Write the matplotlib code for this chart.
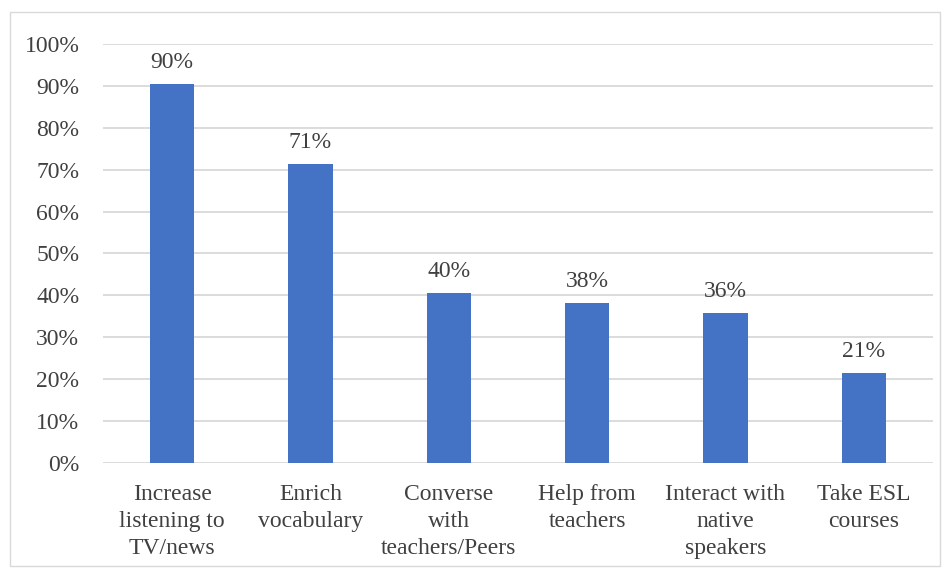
import matplotlib.pyplot as plt
import matplotlib.patches as patches
from matplotlib.ticker import PercentFormatter

categories = ["Increase\nlistening to\nTV/news", "Enrich\nvocabulary", "Converse\nwith\nteachers/Peers",
              "Help from\nteachers", "Interact with\nnative\nspeakers", "Take ESL\ncourses"]
values = [90.5, 71.4, 40.5, 38.1, 35.7, 21.4]
yticks = list(range(0, 101, 10))

plt.rcParams["font.family"] = ["Liberation Serif", "DejaVu Serif"]
text_color = "#404040"
fs = 17

fig = plt.figure(figsize=(9.5, 5.69), dpi=100)
ax = fig.add_axes([0.1084, 0.1863, 0.8736, 0.7364])

x = range(len(categories))
bars = ax.bar(x, values, width=0.32, color="#4472C4", zorder=3)

for b, v in zip(bars, values):
    ax.annotate(f"{v:.0f}%", (b.get_x() + b.get_width() / 2, v),
                xytext=(0, 8), textcoords="offset points",
                ha="center", va="bottom", fontsize=fs, color=text_color)

ax.set_xlim(-0.5, len(categories) - 0.5)
ax.set_ylim(0, 100)
ax.set_yticks(yticks)
ax.yaxis.set_major_formatter(PercentFormatter(decimals=0))
ax.set_xticks(list(x))
ax.set_xticklabels(categories, linespacing=1.37)
ax.grid(axis="y", color="#D9D9D9", linewidth=1.3, zorder=0)
for s in ax.spines.values():
    s.set_visible(False)
ax.tick_params(axis="both", length=0, labelsize=fs, labelcolor=text_color)
ax.tick_params(axis="y", pad=17)
ax.tick_params(axis="x", pad=15)

fig.patches.append(patches.Rectangle((0.0105, 0.006), 0.979, 0.973, transform=fig.transFigure,
                                     fill=False, edgecolor="#D9D9D9", linewidth=1))

fig.savefig("out.png", dpi=100)
